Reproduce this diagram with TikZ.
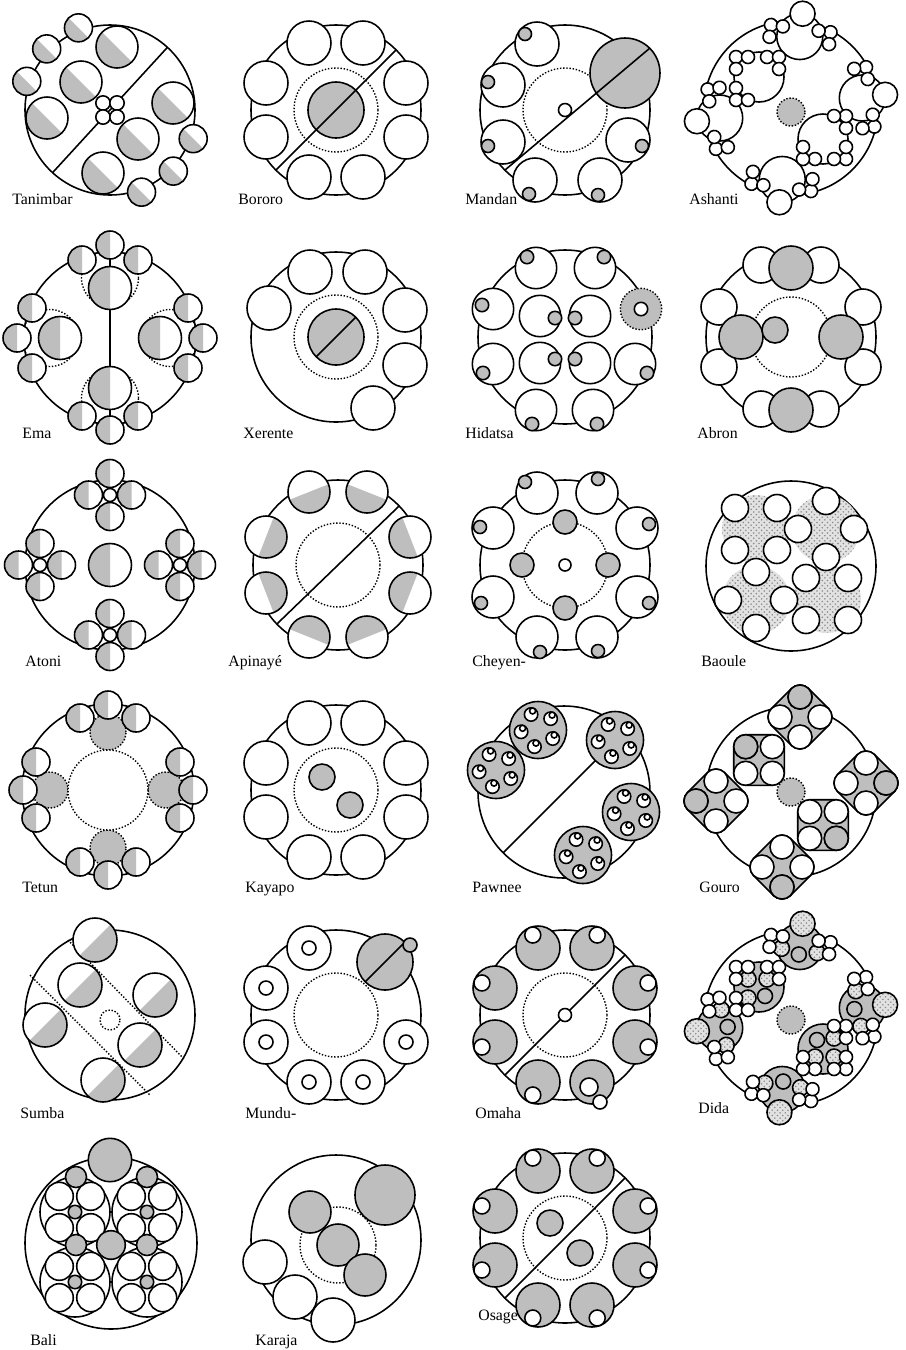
\documentclass[tikz,border=0pt]{standalone}
\usepackage{fontspec}
\setmainfont{Liberation Serif}
\usetikzlibrary{patterns}
\definecolor{midgray}{HTML}{BEBEBE}
\definecolor{palegray}{HTML}{E2E2E2}
\tikzset{
  ring/.style={draw=black, line width=0.9pt},
  dotring/.style={draw=black, densely dotted, line width=0.8pt},
  speckle/.style={preaction={fill=palegray}, pattern=crosshatch dots, pattern color=black!45},
  tag/.style={anchor=base west, inner sep=0pt, font=\fontsize{9}{10}\selectfont},
}
% white, gray and half-gray circles
\newcommand{\wc}[2]{\draw[ring,fill=white] #1 circle[radius=#2];}
\newcommand{\gc}[2]{\draw[ring,fill=midgray] #1 circle[radius=#2];}
\newcommand{\hc}[3]{%
  \fill[white] #1 circle[radius=#2];
  \fill[midgray] #1 ++(#3-90:#2) arc[start angle=#3-90,delta angle=180,radius=#2] -- cycle;
  \draw[ring] #1 circle[radius=#2];}
% rounded diamond round four circles
\newcommand{\hull}[2]{%
  \draw[ring,fill=midgray] (#1,0) ++(-45:#2) arc[start angle=-45,end angle=45,radius=#2]
    -- ++(-#1,#1) arc[start angle=45,end angle=135,radius=#2]
    -- ++(-#1,-#1) arc[start angle=135,end angle=225,radius=#2]
    -- ++(#1,-#1) arc[start angle=225,end angle=315,radius=#2] -- cycle;}
\begin{document}
\begin{tikzpicture}[x=0.02cm,y=0.02cm]
\useasboundingbox (0,0) rectangle (906,-1350);

% Tanimbar
\begin{scope}[shift={(110,-110)}]
  \draw[ring] (0,0) circle[radius=85];
  \draw[ring] (227.5:85) -- (47.5:85);
  \foreach \x/\y in {7/63,-29/28,-63/-8,63/7,28/-29,-7/-63} {\hc{(\x,\y)}{21}{225}}
  \foreach \a in {111,136,161,-19,-44,-69} {\hc{(\a:88)}{14}{225}}
  \foreach \x/\y in {-7/7,7/7,-7/-7,7/-7} {\wc{(\x,\y)}{7.2}}
\end{scope}

% Bororo
\begin{scope}[shift={(336,-110)}]
  \draw[ring] (0,0) circle[radius=85];
  \draw[dotring] (0,0) circle[radius=42];
  \gc{(0,0)}{28}
  \draw[ring] (225:85) -- (45:85);
  \foreach \x/\y in {-27/67,27/67,-70/27,70/27,-70/-27,70/-27,-27/-67,27/-67} {\wc{(\x,\y)}{22}}
\end{scope}

% Mandan
\begin{scope}[shift={(565,-110)}]
  \draw[ring] (0,0) circle[radius=85];
  \draw[dotring] (0,0) circle[radius=42];
  \gc{(60,37)}{35}
  \draw[ring] (225:85) -- (85,62);
  \wc{(0,0)}{6.5}
  \foreach \x/\y/\u/\v in {-28/66/-40/76,-62/25/-77/28,-62/-32/-77/-36,-30/-70/-36/-84,35/-70/33/-85,63/-30/77/-36} {\wc{(\x,\y)}{22}\gc{(\u,\v)}{6.5}}
\end{scope}

% Ashanti
\begin{scope}[shift={(791,-108)}]
  \draw[ring] (0,0) circle[radius=87];
  \foreach \t in {83,8,263,188} {\draw[ring,fill=white] (\t:72) circle[radius=23];}
  \foreach \t in {0,180} {\begin{scope}[rotate=\t]\draw[ring,fill=white] (-32,31) circle[radius=25];\end{scope}}
  \foreach \t in {83,8,263,188} {
    \foreach \s in {-1,1} {
      \begin{scope}[shift={(\t:72)},rotate=\t]
        \foreach \u/\v in {8/30,8/18,-4/30} {\wc{(\u,\s*\v)}{6.5}}
      \end{scope}}
    \wc{(\t:95)}{12.5}}
  \foreach \t in {0,180} {
    \begin{scope}[rotate=\t,shift={(-32,31)}]
      \foreach \x/\y in {-23/20,-11/20,-23/8,8/20,20/20,20/8,-23/-11,-23/-23,-11/-23} {\wc{(\x,\y)}{6.5}}
    \end{scope}}
  \fill[midgray] (0,-4) circle[radius=14]; \draw[dotring] (0,-4) circle[radius=14];
\end{scope}

% Ema
\begin{scope}[shift={(110,-338)}]
  \draw[ring] (0,0) circle[radius=86];
  \draw[ring] (0,92) -- (0,-92);
  \foreach \a in {90,0,180,270} {\draw[dotring] (\a:60) circle[radius=28.5];}
  \foreach \a in {90,0,180,270} {\hc{(\a:50)}{21.5}{180}}
  \foreach \x/\y in {0/93,-28/78,28/78,-78/30,-93/0,-78/-30,78/30,93/0,78/-30,0/-92,-28/-78,28/-78} {\hc{(\x,\y)}{14}{180}}
\end{scope}

% Xerente
\begin{scope}[shift={(336,-337)}]
  \draw[ring] (0,0) circle[radius=85];
  \draw[dotring] (0,0) circle[radius=42];
  \gc{(0,0)}{28}
  \draw[ring] (225:28) -- (45:28);
  \foreach \x/\y in {-26/65,29/65,-67/29,69/27,69/-28,37/-71} {\wc{(\x,\y)}{22}}
\end{scope}

% Hidatsa
\begin{scope}[shift={(565,-337)}]
  \draw[ring] (0,0) circle[radius=87];
  \foreach \x/\y/\u/\v in {-29/69/-38/80,30/69/39/80,-72/28/-83/32,-72/-27/-82/-36,70/-27/82/-36,-29/-73/-33/-87,28/-73/32/-87,-25/21/-10/19,25/21/10/19,-25/-26/-10/-22,25/-26/10/-22} {\wc{(\x,\y)}{20.7}\gc{(\u,\v)}{6.7}}
  \draw[dotring,fill=midgray] (76,28) circle[radius=20.7];
  \wc{(76,28)}{6.7}
\end{scope}

% Abron
\begin{scope}[shift={(791,-337)}]
  \draw[ring] (0,0) circle[radius=85];
  \draw[dotring] (0,0) circle[radius=40];
  \foreach \x/\y in {-30/72,30/72,-72/30,72/30,-72/-30,72/-30,-30/-72,30/-72} {\wc{(\x,\y)}{18}}
  \foreach \x/\y in {0/69,-50/0,50/0,0/-73} {\gc{(\x,\y)}{22}}
  \gc{(-16,7)}{13}
\end{scope}

% Atoni
\begin{scope}[shift={(110,-565)}]
  \draw[ring] (0,0) circle[radius=85];
  \hc{(0,0)}{21.5}{180}
  \foreach \a in {90,0,180,270} {
    \begin{scope}[shift={(\a:70)}]
      \foreach \b in {90,0,180,270} {\hc{(\b:21.5)}{14}{180}}
      \wc{(0,0)}{6.5}
    \end{scope}}
\end{scope}

% Apinaye
\begin{scope}[shift={(338,-565)}]
  \draw[ring] (0,0) circle[radius=85];
  \draw[dotring] (0,0) circle[radius=42];
  \draw[ring] (224:85) -- (44:85);
  \foreach \x/\y in {-29/73,29/73,-72/28,72/28,-72/-28,72/-28,-29/-72,29/-72} {
    \pgfmathsetmacro\dirA{atan2(-\y,-\x)}
    \hc{(\x,\y)}{21}{\dirA}}
\end{scope}

% Cheyen-
\begin{scope}[shift={(565,-565)}]
  \draw[ring] (0,0) circle[radius=85];
  \draw[dotring] (0,0) circle[radius=43];
  \foreach \x/\y/\u/\v in {-28/72/-40/83,32/72/33/86,-72/37/-85/38,72/37/84/41,-72/-32/-84/-38,72/-32/84/-38,-28/-72/-25/-87,32/-72/33/-86} {\wc{(\x,\y)}{21}\gc{(\u,\v)}{6.5}}
  \foreach \a in {90,0,180,270} {\gc{(\a:43)}{12}}
  \wc{(0,0)}{6}
\end{scope}

% Baoule
\begin{scope}[shift={(791,-566)}]
  \draw[ring] (0,0) circle[radius=85];
  \foreach \x/\y in {-35/37,35/37,-35/-34,36/-33} {\fill[speckle] (\x,\y) circle[radius=34];}
  \foreach \x/\y in {-35/37,36/-33} {
    \foreach \u/\v in {-21/-21,21/-21,-21/21,21/21} {\wc{(\x+\u,\y+\v)}{13.5}}}
  \foreach \x/\y in {35/37,-35/-34} {
    \foreach \b in {0,90,180,270} {\begin{scope}[shift={(\x,\y)}]\wc{(\b:28)}{13.5}\end{scope}}}
\end{scope}

% Tetun
\begin{scope}[shift={(108,-790)}]
  \draw[ring] (0,0) circle[radius=86];
  \foreach \a in {90,0,180,270} {\fill[midgray] (\a:58) circle[radius=18]; \draw[dotring] (\a:58) circle[radius=18];}
  \draw[dotring,fill=white] (0,0) circle[radius=40];
  \foreach \x/\y in {0/85,-28/72,28/72,-72/28,-85/0,-72/-28,72/28,85/0,72/-28,0/-85,-28/-72,28/-72} {\hc{(\x,\y)}{14}{180}}
\end{scope}

% Kayapo
\begin{scope}[shift={(336,-790)}]
  \draw[ring] (0,0) circle[radius=85];
  \draw[dotring] (0,0) circle[radius=42];
  \gc{(-14,13)}{13}
  \gc{(14,-15)}{13}
  \foreach \x/\y in {-27/67,27/67,-70/27,70/27,-70/-27,70/-27,-27/-67,27/-67} {\wc{(\x,\y)}{22}}
\end{scope}

% Pawnee
\begin{scope}[shift={(564,-792)}]
  \draw[ring] (0,0) circle[radius=86];
  \draw[ring] (225:86) -- (45:86);
  \foreach \x/\y in {-68/22,-26/62,51/52,67/-20,19/-63} {
    \begin{scope}[shift={(\x,\y)}]
      \gc{(0,0)}{28.5}
      \foreach \a in {42,114,186,258,330} {
        \begin{scope}[shift={(\a:17)}]
          \wc{(0,0)}{6.7}
          \wc{(1.5,3.5)}{3}
        \end{scope}}
    \end{scope}}
\end{scope}

% Gouro
\begin{scope}[shift={(791,-792)}]
  \draw[ring] (0,0) circle[radius=85];
  \foreach \x/\y/\g in {9/75/90,75/9/0,-9/-75/270,-75/-9/180} {
    \begin{scope}[shift={(\x,\y)}]
      \hull{20}{12}
      \foreach \b in {0,90,180,270} {\wc{(\b:20)}{12}}
      \gc{(\g:20)}{12}
    \end{scope}}
  \foreach \x/\y/\g in {-32/32/135,32/-33/-45} {
    \begin{scope}[shift={(\x,\y)}]
      \begin{scope}[rotate=45]\hull{18.8}{12}\end{scope}
      \foreach \b in {45,135,225,315} {\wc{(\b:18.8)}{12}}
      \gc{(\g:18.8)}{12}
    \end{scope}}
  \fill[midgray] (0,0) circle[radius=14]; \draw[dotring] (0,0) circle[radius=14];
\end{scope}

% Sumba
\begin{scope}[shift={(110,-1015)}]
  \draw[ring] (0,0) circle[radius=85];
  \draw[dotring] (-42,75) -- (75,-45);
  \draw[dotring] (-80,40) -- (40,-80);
  \foreach \x/\y in {-15/75,-30/30,-65/-10,45/20,30/-30,-7/-65} {\hc{(\x,\y)}{22}{-45}}
  \draw[dotring,fill=white] (0,-5) circle[radius=10];
\end{scope}

% Mundu-
\begin{scope}[shift={(336,-1015)}]
  \draw[ring] (0,0) circle[radius=85];
  \draw[dotring] (0,0) circle[radius=42];
  \foreach \x/\y in {-27/67,-70/27,-70/-27,70/-27,-27/-67,27/-67} {\wc{(\x,\y)}{22}\wc{(\x,\y)}{7}}
  \gc{(49,53)}{28}
  \draw[ring] (29,33) -- (69,73);
  \gc{(74,70)}{7}
\end{scope}

% Omaha
\begin{scope}[shift={(565,-1015)}]
  \draw[ring] (0,0) circle[radius=85];
  \draw[dotring] (0,0) circle[radius=42];
  \draw[ring] (225:85) -- (45:85);
  \wc{(0,0)}{6.5}
  \foreach \x/\y in {-27/67,27/67,-70/27,70/27,-70/-27,70/-27,-27/-67} {
    \pgfmathsetmacro\dirA{atan2(\y,\x)}
    \gc{(\x,\y)}{22}
    \begin{scope}[shift={(\x,\y)}]\wc{(\dirA:14)}{8}\end{scope}}
  \gc{(27,-67)}{22}
  \wc{(24,-72)}{9}
  \wc{(35,-87)}{7}
\end{scope}

% Dida
\begin{scope}[shift={(791,-1018)}]
  \draw[ring] (0,0) circle[radius=87];
  \foreach \t in {83,8,263,188} {\gc{(\t:72)}{23}\gc{(\t:64)}{7.5}}
  \foreach \t in {0,180} {\begin{scope}[rotate=\t]\gc{(-32,31)}{25}\gc{(-26,22)}{7.5}\end{scope}}
  \foreach \t in {83,8,263,188} {
    \foreach \s in {-1,1} {
      \begin{scope}[shift={(\t:72)},rotate=\t]
        \draw[ring,speckle] (-4,\s*18) circle[radius=8];
        \foreach \u/\v in {8/30,8/18,-4/30} {\wc{(\u,\s*\v)}{6.5}}
      \end{scope}}
    \draw[ring,speckle] (\t:95) circle[radius=12.5];}
  \foreach \t in {0,180} {
    \begin{scope}[rotate=\t,shift={(-32,31)}]
      \foreach \x/\y in {-11/8,8/8,-11/-11} {\draw[ring,speckle] (\x,\y) circle[radius=8];}
      \foreach \x/\y in {-23/20,-11/20,-23/8,8/20,20/20,20/8,-23/-11,-23/-23,-11/-23} {\wc{(\x,\y)}{6.5}}
    \end{scope}}
  \fill[midgray] (0,-2) circle[radius=14]; \draw[dotring] (0,-2) circle[radius=14];
\end{scope}

% Bali
\begin{scope}[shift={(111,-1243)}]
  \draw[ring] (0,0) circle[radius=86];
  \foreach \x/\y in {-36/31,36/31,-36/-39,36/-39} {
    \begin{scope}[shift={(\x,\y)}]
      \draw[ring,fill=white] (0,0) circle[radius=35];
      \foreach \u/\v in {-15.7/15.7,15.7/15.7,-15.7/-15.7,15.7/-15.7} {\wc{(\u,\v)}{14}}
      \gc{(0,0)}{6.7}
    \end{scope}}
  \foreach \x/\y in {-35/66,36/66,-35/-2,36/-2} {\gc{(\x,\y)}{10.5}}
  \gc{(0,-2)}{14.3}
  \gc{(-1,83)}{21.7}
\end{scope}

% Karaja
\begin{scope}[shift={(336,-1240)}]
  \draw[ring] (0,0) circle[radius=85];
  \draw[dotring] (2,-5) circle[radius=38];
  \gc{(49,45)}{30}
  \foreach \x/\y in {-26/28,2/-5,29/-35} {\gc{(\x,\y)}{21}}
  \foreach \x/\y in {-71/-22,-41/-57,-3/-80} {\wc{(\x,\y)}{22}}
\end{scope}

% Osage
\begin{scope}[shift={(565,-1238)}]
  \draw[ring] (0,0) circle[radius=85];
  \draw[dotring] (0,0) circle[radius=42];
  \draw[ring] (225:85) -- (45:85);
  \gc{(-15,15)}{13}
  \gc{(15,-15)}{13}
  \foreach \x/\y in {-27/67,27/67,-70/27,70/27,-70/-27,70/-27,-27/-67,27/-67} {
    \pgfmathsetmacro\dirA{atan2(\y,\x)}
    \gc{(\x,\y)}{22}
    \begin{scope}[shift={(\x,\y)}]\wc{(\dirA:14)}{8}\end{scope}}
\end{scope}

% labels
\node[tag] (tanimbar) at (12,-204) {Tanimbar};
\node[tag] (bororo) at (238,-204) {Bororo};
\node[tag] (mandan) at (465,-204) {Mandan};
\node[tag] (ashanti) at (689,-204) {Ashanti};
\node[tag] (ema) at (22,-438) {Ema};
\node[tag] (xerente) at (243,-438) {Xerente};
\node[tag] (hidatsa) at (465,-438) {Hidatsa};
\node[tag] (abron) at (697,-438) {Abron};
\node[tag] (atoni) at (25,-666) {Atoni};
\node[tag] (apinaye) at (228,-666) {Apinayé};
\node[tag] (cheyen) at (472,-666) {Cheyen-};
\node[tag] (baoule) at (701,-666) {Baoule};
\node[tag] (tetun) at (22,-892) {Tetun};
\node[tag] (kayapo) at (245,-892) {Kayapo};
\node[tag] (pawnee) at (472,-892) {Pawnee};
\node[tag] (gouro) at (699,-892) {Gouro};
\node[tag] (sumba) at (20,-1118) {Sumba};
\node[tag] (mundu) at (245,-1118) {Mundu-};
\node[tag] (omaha) at (475,-1118) {Omaha};
\node[tag] (dida) at (698,-1113) {Dida};
\node[tag] (bali) at (30,-1345) {Bali};
\node[tag] (karaja) at (255,-1345) {Karaja};
\node[tag] (osage) at (478,-1320) {Osage};

\end{tikzpicture}
\end{document}
